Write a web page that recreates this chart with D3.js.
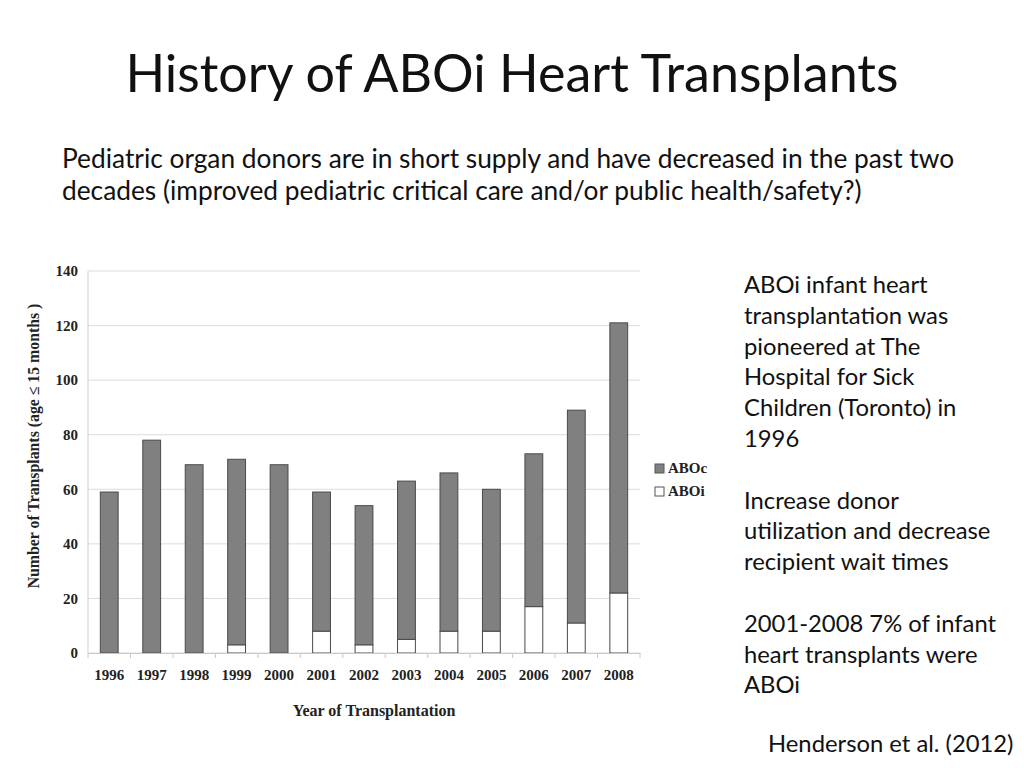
<!DOCTYPE html>
<html><head><meta charset="utf-8">
<script src="https://cdn.jsdelivr.net/npm/d3@7"></script>
<style>
body{margin:0;background:#fff;}
svg{display:block;}
</style></head>
<body>
<svg id="c" width="1024" height="768"></svg>
<script>
const years = ["1996","1997","1998","1999","2000","2001","2002","2003","2004","2005","2006","2007","2008"];
const totals = [59,78,69,71,69,59,54,63,66,60,73,89,121];
const aboi   = [0,0,0,3,0,8,3,5,8,8,17,11,22];
const aboc   = totals.map((t,i)=>t-aboi[i]);
const yTicks = [0,20,40,60,80,100,120,140];
const seriesNames = ["ABOc","ABOi"];

const svg = d3.select("#c");
const sans = "Lato, 'Open Sans', sans-serif";
const serif = "'Liberation Serif', 'Times New Roman', serif";

svg.append("text").attr("x",512).attr("y",92).attr("text-anchor","middle")
  .attr("font-family",sans).attr("font-size",52).attr("fill","#111")
  .text("History of ABOi Heart Transplants");

const sub = ["Pediatric organ donors are in short supply and have decreased in the past two",
             "decades (improved pediatric critical care and/or public health/safety?)"];
sub.forEach((s,i)=>svg.append("text").attr("x",62).attr("y",168+i*32)
  .attr("font-family",sans).attr("font-size",26.3).attr("fill","#111").text(s));

const side = ["ABOi infant heart","transplantation was","pioneered at The","Hospital for Sick",
  "Children (Toronto) in","1996","","Increase donor","utilization and decrease",
  "recipient wait times","","2001-2008 7% of infant","heart transplants were","ABOi"];
side.forEach((s,i)=>{ if(s) svg.append("text").attr("x",744).attr("y",293+i*30.8)
  .attr("font-family",sans).attr("font-size",23.8).attr("fill","#111").text(s);});

svg.append("text").attr("x",768).attr("y",752)
  .attr("font-family",sans).attr("font-size",23.8).attr("fill","#111").text("Henderson et al. (2012)");

const x = d3.scaleBand().domain(years).range([88,640]).paddingInner(0.58).paddingOuter(0.29);
const y = d3.scaleLinear().domain([0,140]).range([653,271]);

// gridlines
const g = svg.append("g");
g.selectAll("line.grid").data(yTicks).join("line")
  .attr("x1",88).attr("x2",640).attr("y1",d=>y(d)).attr("y2",d=>y(d))
  .attr("stroke","#dcdcdc").attr("stroke-width",1);
g.append("line").attr("x1",88).attr("x2",88).attr("y1",y(140)).attr("y2",y(0))
  .attr("stroke","#d0d0d0");

const yAxis = d3.axisLeft(y).tickValues(yTicks).tickSize(0).tickPadding(10);
const ya = svg.append("g").attr("transform","translate(88,0)").call(yAxis);
ya.select(".domain").remove();
ya.selectAll("text").attr("font-family",serif).attr("font-weight","bold").attr("font-size",15).attr("fill","#222");

const stackData = years.map((yr,i)=>({year:yr, ABOi:aboi[i], ABOc:aboc[i]}));
const stack = d3.stack().keys(["ABOi","ABOc"])(stackData);
const colors = {ABOc:"#808080", ABOi:"#ffffff"};
stack.forEach(layer=>{
  svg.append("g").selectAll("rect").data(layer.filter(d=>d[1]>d[0])).join("rect")
    .attr("x",d=>x(d.data.year)).attr("width",x.bandwidth())
    .attr("y",d=>y(d[1])).attr("height",d=>y(d[0])-y(d[1]))
    .attr("fill",colors[layer.key]).attr("stroke","#4a4a4a").attr("stroke-width",1);
});

const xAxis = d3.axisBottom(x).tickSize(0).tickPadding(16);
const xa = svg.append("g").attr("transform",`translate(0,${y(0)})`).call(xAxis);
xa.select(".domain").attr("stroke","#c8c8c8");
xa.selectAll("text").attr("font-family",serif).attr("font-weight","bold").attr("font-size",15).attr("fill","#222");
const step = x.step();
svg.append("g").selectAll("line").data(d3.range(years.length+1)).join("line")
  .attr("x1",i=>88+i*step).attr("x2",i=>88+i*step).attr("y1",y(0)).attr("y2",y(0)+5)
  .attr("stroke","#c8c8c8");

svg.append("text").attr("x",374).attr("y",716).attr("text-anchor","middle")
  .attr("font-family",serif).attr("font-weight","bold").attr("font-size",16).attr("fill","#222")
  .text("Year of Transplantation");
svg.append("text").attr("transform","translate(39,446) rotate(-90)").attr("text-anchor","middle")
  .attr("font-family",serif).attr("font-weight","bold").attr("font-size",15.8).attr("fill","#222")
  .text("Number of Transplants (age \u2264 15 months )");

const lg = svg.append("g");
seriesNames.forEach((n,i)=>{
  lg.append("rect").attr("x",655).attr("y",464+i*23).attr("width",9).attr("height",9)
    .attr("fill",colors[n]).attr("stroke","#555");
  lg.append("text").attr("x",668).attr("y",473+i*23)
    .attr("font-family",serif).attr("font-weight","bold").attr("font-size",15).attr("fill","#222").text(n);
});
</script>
</body></html>
